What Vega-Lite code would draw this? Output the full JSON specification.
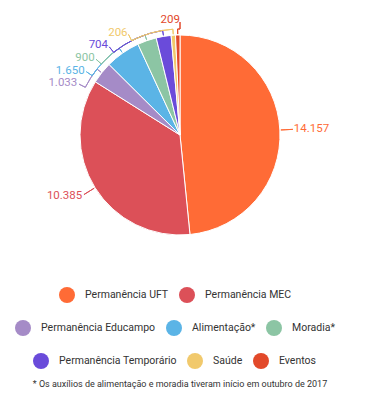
{
  "$schema": "https://vega.github.io/schema/vega-lite/v6.json",
  "width": 360,
  "height": 270,
  "autosize": {"type": "none"},
  "padding": {"left": 0, "top": 0, "right": 5, "bottom": 134},
  "background": "white",
  "config": {
    "view": {"stroke": null},
    "font": "Roboto",
    "locale": {"number": {"decimal": ",", "thousands": ".", "grouping": [3], "currency": ["R$", ""]}},
    "legend": {"padding": 0, "labelFont": "Roboto", "labelFontSize": 10.5, "labelColor": "#333333", "symbolSize": 256, "symbolType": "circle", "symbolStrokeWidth": 0, "labelOffset": 10, "columnPadding": 10, "direction": "horizontal", "orient": "none", "title": null}
  },
  "title": {"text": "* Os auxílios de alimentação e moradia tiveram início em outubro de 2017", "orient": "bottom", "anchor": "middle", "offset": 11, "fontSize": 9, "fontWeight": "normal", "color": "#333333", "font": "Roboto"},
  "data": {"values": [
    {"categoria": "Permanência UFT", "valor": 14157},
    {"categoria": "Permanência MEC", "valor": 10385},
    {"categoria": "Permanência Educampo", "valor": 1033},
    {"categoria": "Alimentação*", "valor": 1650},
    {"categoria": "Moradia*", "valor": 900},
    {"categoria": "Permanência Temporário", "valor": 704},
    {"categoria": "Saúde", "valor": 206},
    {"categoria": "Eventos", "valor": 209}
  ]},
  "transform": [
    {"joinaggregate": [{"op": "sum", "field": "valor", "as": "total"}]},
    {"window": [{"op": "sum", "field": "valor", "as": "cum"}, {"op": "row_number", "as": "idx"}], "frame": [null, 0]},
    {"calculate": "(datum.cum - datum.valor) / datum.total", "as": "ini"},
    {"calculate": "datum.cum / datum.total", "as": "fim"},
    {"calculate": "(datum.cum - datum.valor / 2) / datum.total", "as": "meio"},
    {"calculate": "datum.idx <= 2 ? datum.meio : 1 - acos(1 - 0.11 * (8 - datum.idx)) / (2 * PI)", "as": "rot"}
  ],
  "layer": [
    {
      "transform": [{"filter": "datum.idx <= 2"}],
      "mark": {"type": "arc", "outerRadius": 100, "stroke": "white", "strokeWidth": 1},
      "encoding": {
        "theta": {"field": "ini", "type": "quantitative", "stack": null, "scale": {"domain": [0, 1]}},
        "theta2": {"field": "fim"},
        "color": {"field": "categoria", "type": "nominal", "scale": {"domain": ["Permanência UFT", "Permanência MEC"], "range": ["#FF6B36", "#DC5058"]}, "legend": {"legendX": 59, "legendY": 287}}
      }
    },
    {
      "transform": [{"filter": "datum.idx >= 3 && datum.idx <= 5"}],
      "mark": {"type": "arc", "outerRadius": 100, "stroke": "white", "strokeWidth": 1},
      "encoding": {
        "theta": {"field": "ini", "type": "quantitative", "stack": null, "scale": {"domain": [0, 1]}},
        "theta2": {"field": "fim"},
        "color": {"field": "categoria", "type": "nominal", "scale": {"domain": ["Permanência Educampo", "Alimentação*", "Moradia*"], "range": ["#A58BC7", "#5BB4E6", "#8CC5A4"]}, "legend": {"legendX": 15, "legendY": 320}}
      }
    },
    {
      "transform": [{"filter": "datum.idx >= 6"}],
      "mark": {"type": "arc", "outerRadius": 100, "stroke": "white", "strokeWidth": 1},
      "encoding": {
        "theta": {"field": "ini", "type": "quantitative", "stack": null, "scale": {"domain": [0, 1]}},
        "theta2": {"field": "fim"},
        "color": {"field": "categoria", "type": "nominal", "scale": {"domain": ["Permanência Temporário", "Saúde", "Eventos"], "range": ["#6A4BDA", "#F1C96C", "#E2492A"]}, "legend": {"legendX": 33, "legendY": 353}}
      }
    },
    {
      "mark": {"type": "arc", "outerRadius": 106, "innerRadius": 101, "fill": null, "strokeWidth": 1},
      "encoding": {
        "theta": {"field": "meio", "type": "quantitative", "stack": null, "scale": {"domain": [0, 1]}},
        "theta2": {"field": "meio"},
        "stroke": {"field": "categoria", "type": "nominal", "scale": {"domain": ["Permanência UFT", "Permanência MEC", "Permanência Educampo", "Alimentação*", "Moradia*", "Permanência Temporário", "Saúde", "Eventos"], "range": ["#FF6B36", "#DC5058", "#A58BC7", "#5BB4E6", "#8CC5A4", "#6A4BDA", "#F1C96C", "#E2492A"]}, "legend": null}
      }
    },
    {
      "transform": [{"filter": "datum.idx >= 3"}],
      "mark": {"type": "arc", "outerRadius": 106, "innerRadius": 106, "fill": null, "strokeWidth": 1},
      "encoding": {
        "theta": {"field": "rot", "type": "quantitative", "stack": null, "scale": {"domain": [0, 1]}},
        "theta2": {"field": "meio"},
        "stroke": {"field": "categoria", "type": "nominal", "scale": {"domain": ["Permanência UFT", "Permanência MEC", "Permanência Educampo", "Alimentação*", "Moradia*", "Permanência Temporário", "Saúde", "Eventos"], "range": ["#FF6B36", "#DC5058", "#A58BC7", "#5BB4E6", "#8CC5A4", "#6A4BDA", "#F1C96C", "#E2492A"]}, "legend": null}
      }
    },
    {
      "mark": {"type": "arc", "outerRadius": 113, "innerRadius": 106, "fill": null, "strokeWidth": 1},
      "encoding": {
        "theta": {"field": "rot", "type": "quantitative", "stack": null, "scale": {"domain": [0, 1]}},
        "theta2": {"field": "rot"},
        "stroke": {"field": "categoria", "type": "nominal", "scale": {"domain": ["Permanência UFT", "Permanência MEC", "Permanência Educampo", "Alimentação*", "Moradia*", "Permanência Temporário", "Saúde", "Eventos"], "range": ["#FF6B36", "#DC5058", "#A58BC7", "#5BB4E6", "#8CC5A4", "#6A4BDA", "#F1C96C", "#E2492A"]}, "legend": null}
      }
    },
    {
      "transform": [{"filter": "datum.rot >= 0.5"}],
      "mark": {"type": "text", "radius": 115, "align": "right", "baseline": "middle", "fontSize": 11.5, "font": "Roboto"},
      "encoding": {
        "theta": {"field": "rot", "type": "quantitative", "stack": null, "scale": {"domain": [0, 1]}},
        "text": {"field": "valor", "type": "quantitative", "format": ",d"},
        "color": {"field": "categoria", "type": "nominal", "scale": {"domain": ["Permanência UFT", "Permanência MEC", "Permanência Educampo", "Alimentação*", "Moradia*", "Permanência Temporário", "Saúde", "Eventos"], "range": ["#FF6B36", "#DC5058", "#A58BC7", "#5BB4E6", "#8CC5A4", "#6A4BDA", "#F1C96C", "#E2492A"]}, "legend": null}
      }
    },
    {
      "transform": [{"filter": "datum.rot < 0.5"}],
      "mark": {"type": "text", "radius": 114, "align": "left", "baseline": "middle", "fontSize": 11.5, "font": "Roboto"},
      "encoding": {
        "theta": {"field": "rot", "type": "quantitative", "stack": null, "scale": {"domain": [0, 1]}},
        "text": {"field": "valor", "type": "quantitative", "format": ",d"},
        "color": {"field": "categoria", "type": "nominal", "scale": {"domain": ["Permanência UFT", "Permanência MEC", "Permanência Educampo", "Alimentação*", "Moradia*", "Permanência Temporário", "Saúde", "Eventos"], "range": ["#FF6B36", "#DC5058", "#A58BC7", "#5BB4E6", "#8CC5A4", "#6A4BDA", "#F1C96C", "#E2492A"]}, "legend": null}
      }
    }
  ],
  "resolve": {"scale": {"color": "independent", "stroke": "independent"}}
}
